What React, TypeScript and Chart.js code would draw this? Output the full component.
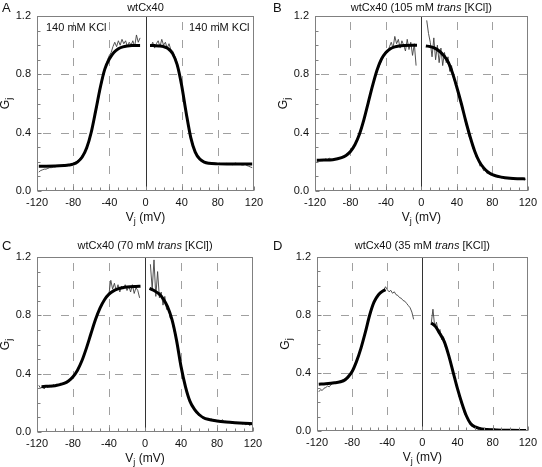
import React, { useEffect, useRef } from "react";
import { Chart, registerables } from "chart.js";

Chart.register(...registerables);

const FONT = '"Liberation Sans", Arial, Helvetica, sans-serif';

// ---- axis ticks / grid ----
const X_GRID = [-80, -40, 40, 80];
const Y_GRID = [0.4, 0.8];

// ---- sampled voltages for the noisy traces (mV) ----
const RAW_LEFT_V = [-118, -116, -114, -112, -110, -108, -106, -104, -102, -100, -98, -96, -94, -92, -90, -88, -86, -84, -82, -80, -78, -76, -74, -72, -70, -68, -66, -64, -62, -60, -58, -56, -54, -52, -50, -48, -46, -44, -42, -40, -38, -36, -34, -32, -30, -28, -26, -24, -22, -20, -18, -16, -14, -12, -10, -8, -6];
const RAW_RIGHT_V = [6, 8, 10, 12, 14, 16, 18, 20, 22, 24, 26, 28, 30, 32, 34, 36, 38, 40, 42, 44, 46, 48, 50, 52, 54, 56, 58, 60, 62, 64, 66, 68, 70, 72, 74, 76, 78, 80, 82, 84, 86, 88, 90, 92, 94, 96, 98, 100, 102, 104, 106, 108, 110, 112, 114, 116, 118];
const D_RAW_LEFT_V = [-118, -116, -114, -112, -110, -108, -106, -104, -102, -100, -98, -96, -94, -92, -90, -88, -86, -84, -82, -80, -78, -76, -74, -72, -70, -68, -66, -64, -62, -60, -58, -56, -54, -52, -50, -48, -46, -44, -42, -40, -38, -36, -34, -32, -30, -28, -26, -24, -22, -20, -18, -16, -14, -12, -10];
const D_RAW_RIGHT_V = [10, 12, 14, 16, 18, 20, 22, 24, 26, 28, 30, 32, 34, 36, 38, 40, 42, 44, 46, 48, 50, 52, 54, 56, 58, 60, 62, 64, 66, 68, 70, 72, 74, 76, 78, 80, 82, 84, 86, 88, 90, 92, 94, 96, 98, 100, 102, 104, 106, 108, 110, 112, 114, 116, 118];

// ---- Panel A: 140 mM KCl ----
const A_RAW_LEFT = [0.13, 0.14, 0.145, 0.15, 0.15, 0.155, 0.16, 0.16, 0.165, 0.165,
  0.17, 0.168, 0.172, 0.17, 0.175, 0.178, 0.18, 0.176, 0.185, 0.19,
  0.195, 0.2, 0.215, 0.225, 0.245, 0.26, 0.28, 0.31, 0.35, 0.4,
  0.45, 0.51, 0.57, 0.63, 0.7, 0.75, 0.81, 0.855, 0.9, 0.93,
  0.95, 0.99, 1.02, 0.99, 1.03, 1.0, 1.04, 1.01, 1.03, 0.99,
  1.02, 1.0, 1.03, 0.99, 1.07, 1.02, 1.05];
const A_RAW_RIGHT = [0.99, 1.02, 0.98, 1.01, 1.03, 0.99, 1.04, 1.0, 1.02, 0.98,
  1.01, 0.97, 0.96, 0.93, 0.9, 0.85, 0.79, 0.72, 0.65, 0.57,
  0.5, 0.43, 0.37, 0.33, 0.29, 0.26, 0.24, 0.225, 0.215, 0.205,
  0.2, 0.195, 0.19, 0.192, 0.187, 0.19, 0.186, 0.185, 0.19, 0.182,
  0.188, 0.184, 0.19, 0.183, 0.186, 0.18, 0.188, 0.192, 0.183, 0.187,
  0.18, 0.178, 0.185, 0.175, 0.17, 0.165, 0.16];
const A_FIT_LEFT_V = [-118, -110, -100, -90, -85, -80, -75, -70, -65, -60, -55, -50, -45, -40, -35, -30, -25, -20, -15, -10, -6];
const A_FIT_LEFT_G = [0.17, 0.17, 0.171, 0.175, 0.178, 0.184, 0.2, 0.233, 0.296, 0.403, 0.553, 0.71, 0.836, 0.905, 0.95, 0.975, 0.988, 0.994, 0.997, 0.998, 0.998];
const A_FIT_RIGHT_V = [5, 10, 15, 20, 25, 30, 35, 40, 45, 50, 55, 60, 65, 70, 80, 90, 100, 110, 118];
const A_FIT_RIGHT_G = [0.998, 0.997, 0.995, 0.99, 0.976, 0.942, 0.866, 0.723, 0.535, 0.368, 0.267, 0.219, 0.198, 0.19, 0.186, 0.185, 0.185, 0.185, 0.185];

// ---- Panel B: 105 mM trans KCl ----
const B_RAW_LEFT = [0.205, 0.21, 0.215, 0.208, 0.212, 0.22, 0.215, 0.225, 0.218, 0.215,
  0.222, 0.22, 0.225, 0.228, 0.232, 0.235, 0.24, 0.25, 0.26, 0.275,
  0.29, 0.31, 0.335, 0.36, 0.39, 0.43, 0.47, 0.51, 0.56, 0.6,
  0.65, 0.7, 0.74, 0.78, 0.82, 0.85, 0.88, 0.92, 0.94, 0.96,
  0.95, 0.99, 1.02, 0.98, 1.06, 1.01, 1.04, 0.98, 1.03, 1.0,
  0.96, 1.04, 0.97, 1.02, 0.93, 1.01, 0.86];
const B_RAW_RIGHT = [1.17, 1.08, 1.02, 0.92, 1.05, 0.9, 1.0, 0.88, 0.98, 0.86,
  0.95, 0.88, 0.92, 0.82, 0.86, 0.78, 0.74, 0.72, 0.66, 0.63,
  0.56, 0.53, 0.46, 0.43, 0.37, 0.35, 0.29, 0.28, 0.23, 0.22,
  0.17, 0.18, 0.14, 0.15, 0.12, 0.13, 0.11, 0.115, 0.1, 0.105,
  0.095, 0.1, 0.09, 0.098, 0.088, 0.092, 0.085, 0.09, 0.083, 0.088,
  0.08, 0.086, 0.082, 0.085, 0.079, 0.083, 0.08];
const B_FIT_LEFT_V = [-118, -110, -100, -90, -85, -80, -75, -70, -65, -60, -55, -50, -45, -40, -35, -30, -25, -20, -10, -5];
const B_FIT_LEFT_G = [0.211, 0.212, 0.215, 0.229, 0.244, 0.271, 0.317, 0.387, 0.486, 0.605, 0.724, 0.83, 0.905, 0.95, 0.975, 0.988, 0.994, 0.997, 0.999, 0.999];
const B_FIT_RIGHT_V = [5, 10, 15, 20, 25, 30, 35, 40, 45, 50, 55, 60, 65, 70, 75, 80, 90, 100, 110, 117];
const B_FIT_RIGHT_G = [0.995, 0.99, 0.98, 0.96, 0.93, 0.886, 0.81, 0.71, 0.6, 0.48, 0.37, 0.275, 0.205, 0.16, 0.13, 0.113, 0.095, 0.087, 0.084, 0.083];

// ---- Panel C: 70 mM trans KCl ----
const C_RAW_LEFT = [0.32, 0.3, 0.31, 0.295, 0.315, 0.305, 0.32, 0.31, 0.325, 0.315,
  0.33, 0.32, 0.335, 0.33, 0.34, 0.335, 0.345, 0.35, 0.36, 0.375,
  0.39, 0.41, 0.44, 0.46, 0.49, 0.52, 0.56, 0.6, 0.64, 0.68,
  0.72, 0.75, 0.79, 0.82, 0.85, 0.87, 0.9, 0.91, 0.94, 0.95,
  1.04, 0.98, 1.02, 0.97, 1.01, 0.96, 1.0, 0.98, 1.01, 0.97,
  1.0, 0.96, 1.01, 0.95, 0.99, 0.97, 0.92];
const C_RAW_RIGHT = [1.15, 0.98, 1.18, 0.93, 1.1, 0.92, 0.96, 0.87, 0.93, 0.84,
  0.85, 0.78, 0.77, 0.7, 0.66, 0.6, 0.53, 0.46, 0.4, 0.33,
  0.29, 0.24, 0.21, 0.18, 0.16, 0.14, 0.13, 0.11, 0.12, 0.095,
  0.1, 0.085, 0.095, 0.08, 0.09, 0.075, 0.082, 0.072, 0.08, 0.07,
  0.085, 0.068, 0.075, 0.065, 0.072, 0.062, 0.068, 0.06, 0.066, 0.058,
  0.064, 0.055, 0.06, 0.05, 0.058, 0.045, 0.052];
const C_FIT_LEFT_V = [-115, -110, -100, -90, -85, -80, -75, -70, -65, -60, -55, -50, -45, -40, -35, -30, -25, -20, -10, -5];
const C_FIT_LEFT_G = [0.311, 0.313, 0.317, 0.333, 0.35, 0.379, 0.424, 0.49, 0.577, 0.675, 0.771, 0.849, 0.907, 0.945, 0.968, 0.981, 0.989, 0.994, 0.998, 0.999];
const C_FIT_RIGHT_V = [5, 10, 15, 20, 25, 30, 35, 40, 45, 50, 55, 60, 65, 70, 80, 90, 100, 110, 120];
const C_FIT_RIGHT_G = [0.985, 0.97, 0.95, 0.915, 0.86, 0.77, 0.63, 0.45, 0.31, 0.21, 0.155, 0.12, 0.098, 0.087, 0.076, 0.069, 0.064, 0.06, 0.057];

// ---- Panel D: 35 mM trans KCl ----
const D_RAW_LEFT = [0.27, 0.285, 0.28, 0.295, 0.3, 0.31, 0.305, 0.32, 0.33, 0.33,
  0.34, 0.335, 0.345, 0.35, 0.355, 0.36, 0.37, 0.38, 0.395, 0.41,
  0.44, 0.47, 0.5, 0.535, 0.57, 0.61, 0.66, 0.71, 0.755, 0.8,
  0.84, 0.87, 0.89, 0.92, 0.935, 0.95, 0.96, 0.97, 0.995, 0.975,
  0.96, 0.97, 0.95, 0.96, 0.94, 0.935, 0.92, 0.915, 0.9, 0.895,
  0.88, 0.865, 0.85, 0.82, 0.77];
const D_RAW_RIGHT = [0.74, 0.84, 0.72, 0.75, 0.68, 0.7, 0.63, 0.65, 0.58, 0.57,
  0.51, 0.47, 0.44, 0.38, 0.33, 0.29, 0.25, 0.2, 0.17, 0.12,
  0.1, 0.07, 0.055, 0.035, 0.035, 0.02, 0.025, 0.012, 0.02, 0.01,
  0.018, 0.008, 0.015, 0.006, 0.014, 0.01, 0.016, 0.006, 0.012, 0.004,
  0.01, 0.005, 0.012, 0.003, 0.009, 0.004, 0.011, 0.003, 0.008, 0.002,
  0.007, 0.003, 0.006, 0.002, 0.005];
const D_FIT_LEFT_V = [-118, -110, -100, -90, -85, -80, -75, -70, -65, -60, -55, -50, -45, -42];
const D_FIT_LEFT_G = [0.323, 0.326, 0.333, 0.346, 0.37, 0.41, 0.48, 0.57, 0.68, 0.8, 0.89, 0.94, 0.965, 0.975];
const D_FIT_RIGHT_V = [10, 15, 20, 25, 30, 35, 40, 45, 50, 55, 60, 65, 70, 80, 90, 100, 118];
const D_FIT_RIGHT_G = [0.745, 0.72, 0.67, 0.615, 0.52, 0.405, 0.29, 0.19, 0.105, 0.05, 0.028, 0.018, 0.012, 0.008, 0.006, 0.005, 0.004];

type Part = { t: string; i?: boolean };

const TITLE_A: Part[] = [{ t: "wtCx40" }];
const TITLE_B: Part[] = [{ t: "wtCx40 (105 mM " }, { t: "trans", i: true }, { t: " [KCl])" }];
const TITLE_C: Part[] = [{ t: "wtCx40 (70 mM " }, { t: "trans", i: true }, { t: " [KCl])" }];
const TITLE_D: Part[] = [{ t: "wtCx40 (35 mM " }, { t: "trans", i: true }, { t: " [KCl])" }];
const NOTE_KCL = "140 mM KCl";

interface PanelCfg {
  letter: string;
  title: Part[];
  left: number;
  top: number;
  w: number;
  h: number;
  padRight: number;
  padTop: number;
  yW: number;
  xH: number;
  titleGap: number;
  notes: boolean;
  rawLV: number[];
  rawLG: number[];
  rawRV: number[];
  rawRG: number[];
  fitLV: number[];
  fitLG: number[];
  fitRV: number[];
  fitRG: number[];
}

const PANELS: PanelCfg[] = [
  { letter: "A", title: TITLE_A, left: 0, top: 0, w: 271, h: 233, padRight: 17, padTop: 16, yW: 37, xH: 42, titleGap: 8, notes: true,
    rawLV: RAW_LEFT_V, rawLG: A_RAW_LEFT, rawRV: RAW_RIGHT_V, rawRG: A_RAW_RIGHT,
    fitLV: A_FIT_LEFT_V, fitLG: A_FIT_LEFT_G, fitRV: A_FIT_RIGHT_V, fitRG: A_FIT_RIGHT_G },
  { letter: "B", title: TITLE_B, left: 271, top: 0, w: 271, h: 233, padRight: 11, padTop: 16, yW: 44, xH: 42, titleGap: 8, notes: false,
    rawLV: RAW_LEFT_V, rawLG: B_RAW_LEFT, rawRV: RAW_RIGHT_V, rawRG: B_RAW_RIGHT,
    fitLV: B_FIT_LEFT_V, fitLG: B_FIT_LEFT_G, fitRV: B_FIT_RIGHT_V, fitRG: B_FIT_RIGHT_G },
  { letter: "C", title: TITLE_C, left: 0, top: 233, w: 271, h: 234, padRight: 18, padTop: 24, yW: 37, xH: 35, titleGap: 11, notes: false,
    rawLV: RAW_LEFT_V, rawLG: C_RAW_LEFT, rawRV: RAW_RIGHT_V, rawRG: C_RAW_RIGHT,
    fitLV: C_FIT_LEFT_V, fitLG: C_FIT_LEFT_G, fitRV: C_FIT_RIGHT_V, fitRG: C_FIT_RIGHT_G },
  { letter: "D", title: TITLE_D, left: 271, top: 233, w: 271, h: 234, padRight: 10, padTop: 24, yW: 46, xH: 36, titleGap: 11, notes: false,
    rawLV: D_RAW_LEFT_V, rawLG: D_RAW_LEFT, rawRV: D_RAW_RIGHT_V, rawRG: D_RAW_RIGHT,
    fitLV: D_FIT_LEFT_V, fitLG: D_FIT_LEFT_G, fitRV: D_FIT_RIGHT_V, fitRG: D_FIT_RIGHT_G },
];

function toXY(xs: number[], ys: number[]) {
  return ys.map((y, i) => ({ x: xs[i], y }));
}

function drawRich(ctx: CanvasRenderingContext2D, parts: Part[], cx: number, cy: number, size: number) {
  const fontOf = (p: Part) => `${p.i ? "italic " : ""}${size}px ${FONT}`;
  let total = 0;
  const widths = parts.map((p) => {
    ctx.font = fontOf(p);
    const w = ctx.measureText(p.t).width;
    total += w;
    return w;
  });
  let x = cx - total / 2;
  ctx.textAlign = "left";
  ctx.textBaseline = "middle";
  parts.forEach((p, i) => {
    ctx.font = fontOf(p);
    ctx.fillText(p.t, x, cy);
    x += widths[i];
  });
}

// Draws main letter + subscript + rest, centred at (0,0) of current transform
function drawSubLabel(ctx: CanvasRenderingContext2D, main: string, sub: string, rest: string, size: number) {
  const big = `${size}px ${FONT}`;
  const small = `${Math.round(size * 0.72)}px ${FONT}`;
  ctx.font = big;
  const w1 = ctx.measureText(main).width;
  const w3 = ctx.measureText(rest).width;
  ctx.font = small;
  const w2 = ctx.measureText(sub).width;
  const total = w1 + w2 + w3;
  let x = -total / 2;
  ctx.textAlign = "left";
  ctx.textBaseline = "middle";
  ctx.font = big;
  ctx.fillText(main, x, 0);
  x += w1;
  ctx.font = small;
  ctx.fillText(sub, x, size * 0.3);
  x += w2;
  ctx.font = big;
  ctx.fillText(rest, x, 0);
}

function makePlugin(p: PanelCfg) {
  return {
    id: "deco" + p.letter,
    beforeDatasetsDraw(chart: any) {
      const { ctx, chartArea: a, scales } = chart;
      const xs = scales.x;
      const ys = scales.y;
      ctx.save();
      ctx.strokeStyle = "#a0a0a0";
      ctx.lineWidth = 1;
      ctx.setLineDash([8, 10]);
      for (const v of X_GRID) {
        const px = Math.round(xs.getPixelForValue(v)) + 0.5;
        ctx.beginPath();
        ctx.lineDashOffset = -6;
        ctx.moveTo(px, a.top);
        ctx.lineTo(px, a.bottom);
        ctx.stroke();
      }
      for (const g of Y_GRID) {
        const py = Math.round(ys.getPixelForValue(g)) + 0.5;
        ctx.beginPath();
        ctx.lineDashOffset = -6;
        ctx.moveTo(a.left, py);
        ctx.lineTo(a.right, py);
        ctx.stroke();
      }
      ctx.setLineDash([]);
      const z = Math.round(xs.getPixelForValue(0)) + 0.5;
      ctx.strokeStyle = "#333";
      ctx.beginPath();
      ctx.moveTo(z, a.top);
      ctx.lineTo(z, a.bottom);
      ctx.stroke();
      ctx.restore();
    },
    afterDatasetsDraw(chart: any) {
      const { ctx, chartArea: a, scales } = chart;
      const xs = scales.x;
      const ys = scales.y;
      ctx.save();
      ctx.strokeStyle = "#808080";
      ctx.lineWidth = 1;
      const l = Math.round(a.left) + 0.5;
      const t = Math.round(a.top) + 0.5;
      const r = Math.round(a.right) - 0.5;
      const b = Math.round(a.bottom) - 0.5;
      ctx.strokeRect(l, t, r - l, b - t);
      // inward tick marks
      ctx.beginPath();
      for (let v = -120; v <= 120; v += 10) {
        const px = Math.round(xs.getPixelForValue(v)) + 0.5;
        const len = v % 40 === 0 ? 4 : 3;
        ctx.moveTo(px, b);
        ctx.lineTo(px, b - len);
      }
      for (let k = 0; k <= 12; k++) {
        const py = Math.round(ys.getPixelForValue(k / 10)) + 0.5;
        const len = k % 4 === 0 ? 4 : 3;
        ctx.moveTo(l, py);
        ctx.lineTo(l + len, py);
      }
      ctx.stroke();
      ctx.restore();
    },
    afterDraw(chart: any) {
      const { ctx, chartArea: a } = chart;
      ctx.save();
      ctx.fillStyle = "#111";
      // panel letter
      ctx.font = `13px ${FONT}`;
      ctx.textAlign = "left";
      ctx.textBaseline = "middle";
      ctx.fillText(p.letter, 2, a.top - p.titleGap);
      // title
      drawRich(ctx, p.title, (a.left + a.right) / 2, a.top - p.titleGap, 11);
      // x axis title
      ctx.save();
      ctx.translate((a.left + a.right) / 2, a.bottom + 27);
      drawSubLabel(ctx, "V", "j", " (mV)", 12);
      ctx.restore();
      // y axis title
      ctx.save();
      ctx.translate(a.left - 31, (a.top + a.bottom) / 2);
      ctx.rotate(-Math.PI / 2);
      drawSubLabel(ctx, "G", "j", "", 12);
      ctx.restore();
      if (p.notes) {
        ctx.font = `11px ${FONT}`;
        ctx.textBaseline = "middle";
        ctx.textAlign = "left";
        ctx.fillText(NOTE_KCL, 46, a.top + 12);
        ctx.fillText(NOTE_KCL, 189, a.top + 12);
      }
      ctx.restore();
    },
  };
}

function Panel({ p }: { p: PanelCfg }) {
  const ref = useRef<HTMLCanvasElement>(null);
  useEffect(() => {
    const canvas = ref.current;
    if (!canvas) return;
    const fitStyle = {
      showLine: true,
      borderColor: "#000",
      borderWidth: 3,
      pointRadius: 0,
      cubicInterpolationMode: "monotone" as const,
      borderJoinStyle: "round" as const,
    };
    const rawStyle = {
      showLine: true,
      borderColor: "#404040",
      borderWidth: 0.9,
      pointRadius: 0,
      tension: 0,
    };
    const tickFont = { family: FONT, size: 11 };
    const chart = new Chart(canvas, {
      type: "scatter",
      data: {
        datasets: [
          { ...fitStyle, data: toXY(p.fitLV, p.fitLG) },
          { ...fitStyle, data: toXY(p.fitRV, p.fitRG) },
          { ...rawStyle, data: toXY(p.rawLV, p.rawLG) },
          { ...rawStyle, data: toXY(p.rawRV, p.rawRG) },
        ],
      },
      options: {
        responsive: false,
        animation: false,
        devicePixelRatio: 1,
        layout: { padding: { left: 0, right: p.padRight, top: p.padTop, bottom: 0 } },
        plugins: { legend: { display: false }, tooltip: { enabled: false } },
        events: [],
        scales: {
          x: {
            type: "linear",
            min: -120,
            max: 120,
            grid: { display: false, drawTicks: false },
            border: { display: false },
            ticks: { stepSize: 40, autoSkip: false, maxRotation: 0, color: "#111", font: tickFont, padding: 5 },
            afterFit: (s: any) => { s.height = p.xH; },
          },
          y: {
            min: 0,
            max: 1.2,
            grid: { display: false, drawTicks: false },
            border: { display: false },
            ticks: {
              stepSize: 0.4,
              autoSkip: false,
              color: "#111",
              font: tickFont,
              padding: 6,
              callback: (v: any) => Number(v).toFixed(1),
            },
            afterFit: (s: any) => { s.width = p.yW; },
          },
        },
      },
      plugins: [makePlugin(p)],
    } as any);
    return () => chart.destroy();
  }, [p]);
  return (
    <canvas
      ref={ref}
      width={p.w}
      height={p.h}
      style={{ position: "absolute", left: p.left, top: p.top, width: p.w, height: p.h }}
    />
  );
}

export default function App() {
  return (
    <div style={{ position: "absolute", left: 0, top: 0, width: 542, height: 467, background: "#fff", overflow: "hidden" }}>
      {PANELS.map((p) => (
        <Panel key={p.letter} p={p} />
      ))}
    </div>
  );
}
